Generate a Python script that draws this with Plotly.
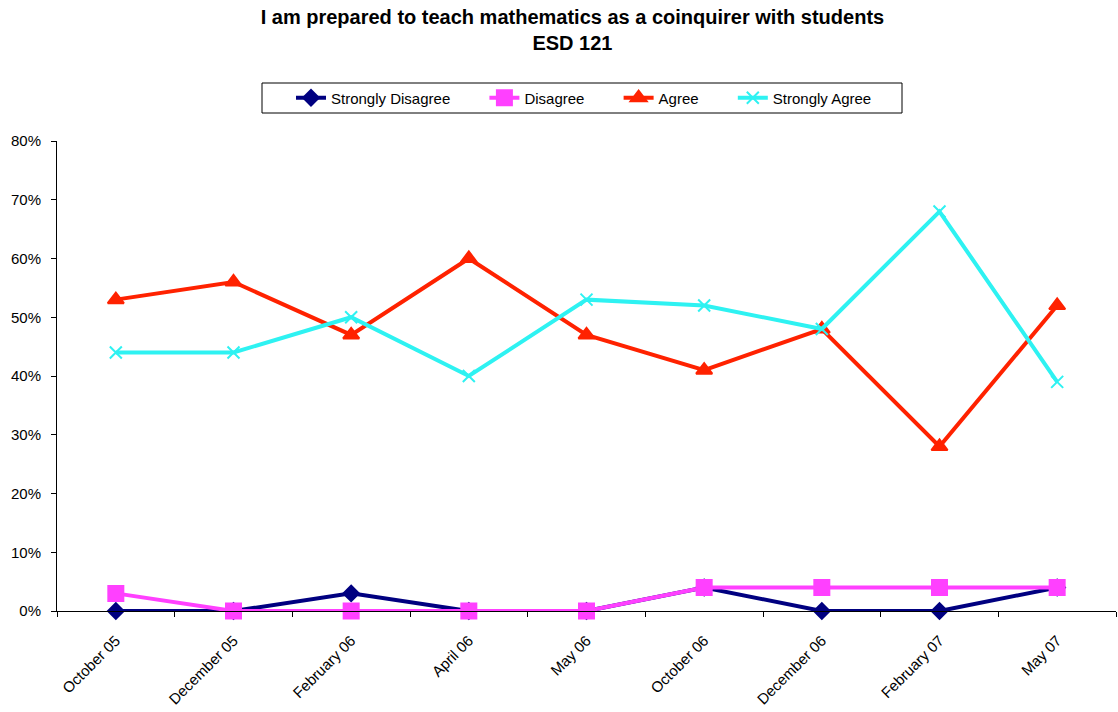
import plotly.graph_objects as go

categories = ["October 05", "December 05", "February 06", "April 06", "May 06",
              "October 06", "December 06", "February 07", "May 07"]
strongly_disagree = [0, 0, 3, 0, 0, 4, 0, 0, 4]
disagree = [3, 0, 0, 0, 0, 4, 4, 4, 4]
agree = [53, 56, 47, 60, 47, 41, 48, 28, 52]
strongly_agree = [44, 44, 50, 40, 53, 52, 48, 68, 39]

series = [
    ("Strongly Disagree", strongly_disagree, "#000080", "diamond", 12),
    ("Disagree", disagree, "#FF40FF", "square", 15),
    ("Agree", agree, "#FF2200", "triangle-up", 14),
    ("Strongly Agree", strongly_agree, "#2EF2F2", "x-thin-open", 12),
]

PAD = "\u00a0" * 7

fig = go.Figure()
for i, (name, vals, color, sym, size) in enumerate(series):
    label = name + (PAD if i < len(series) - 1 else "")
    fig.add_trace(go.Scatter(
        x=categories, y=[v / 100 for v in vals], name=label, mode="lines+markers",
        line=dict(color=color, width=4),
        marker=dict(symbol=sym, size=size, color=color, line=dict(color=color, width=2)),
        cliponaxis=False,
    ))

# legend frame (plot area: x 57..1116 px, y 141..611 px)
fig.add_shape(type="rect", xref="paper", yref="paper",
              x0=(262 - 57) / 1059, x1=(902 - 57) / 1059,
              y0=(611 - 113) / 470, y1=(611 - 83) / 470,
              line=dict(color="black", width=1), fillcolor="rgba(0,0,0,0)")

fig.update_layout(
    width=1118, height=712,
    margin=dict(l=57, r=2, t=141, b=101, autoexpand=False),
    paper_bgcolor="white", plot_bgcolor="white",
    font=dict(family="Liberation Sans, Arial", size=14, color="black"),
    title=dict(text="<b>I am prepared to teach mathematics as a coinquirer with students<br>ESD 121</b>",
               x=0.512, xanchor="center", y=0.966, yanchor="top",
               font=dict(size=20, color="black")),
    legend=dict(orientation="h", x=(584 - 57) / 1059, xanchor="center",
                y=(611 - 98) / 470, yanchor="middle", bgcolor="rgba(0,0,0,0)",
                borderwidth=0, font=dict(size=15), itemwidth=30),
    xaxis=dict(type="category", range=[-0.5, 8.5], showgrid=False, tickson="boundaries",
               ticks="outside", ticklen=5, tickcolor="black", showline=True,
               linecolor="black", linewidth=1, tickangle=-45, tickfont=dict(size=15),
               ticklabelstandoff=14,
               zeroline=False, automargin=False),
    yaxis=dict(range=[0, 0.8], dtick=0.1, tickformat=".0%", showgrid=False,
               ticks="outside", ticklen=5, tickcolor="black", showline=True,
               linecolor="black", linewidth=1, zeroline=False, tickfont=dict(size=15),
               ticklabelstandoff=7, automargin=False),
)

fig.write_html("out.html", post_script="document.body.style.margin='0';",
               config={"displayModeBar": False})
